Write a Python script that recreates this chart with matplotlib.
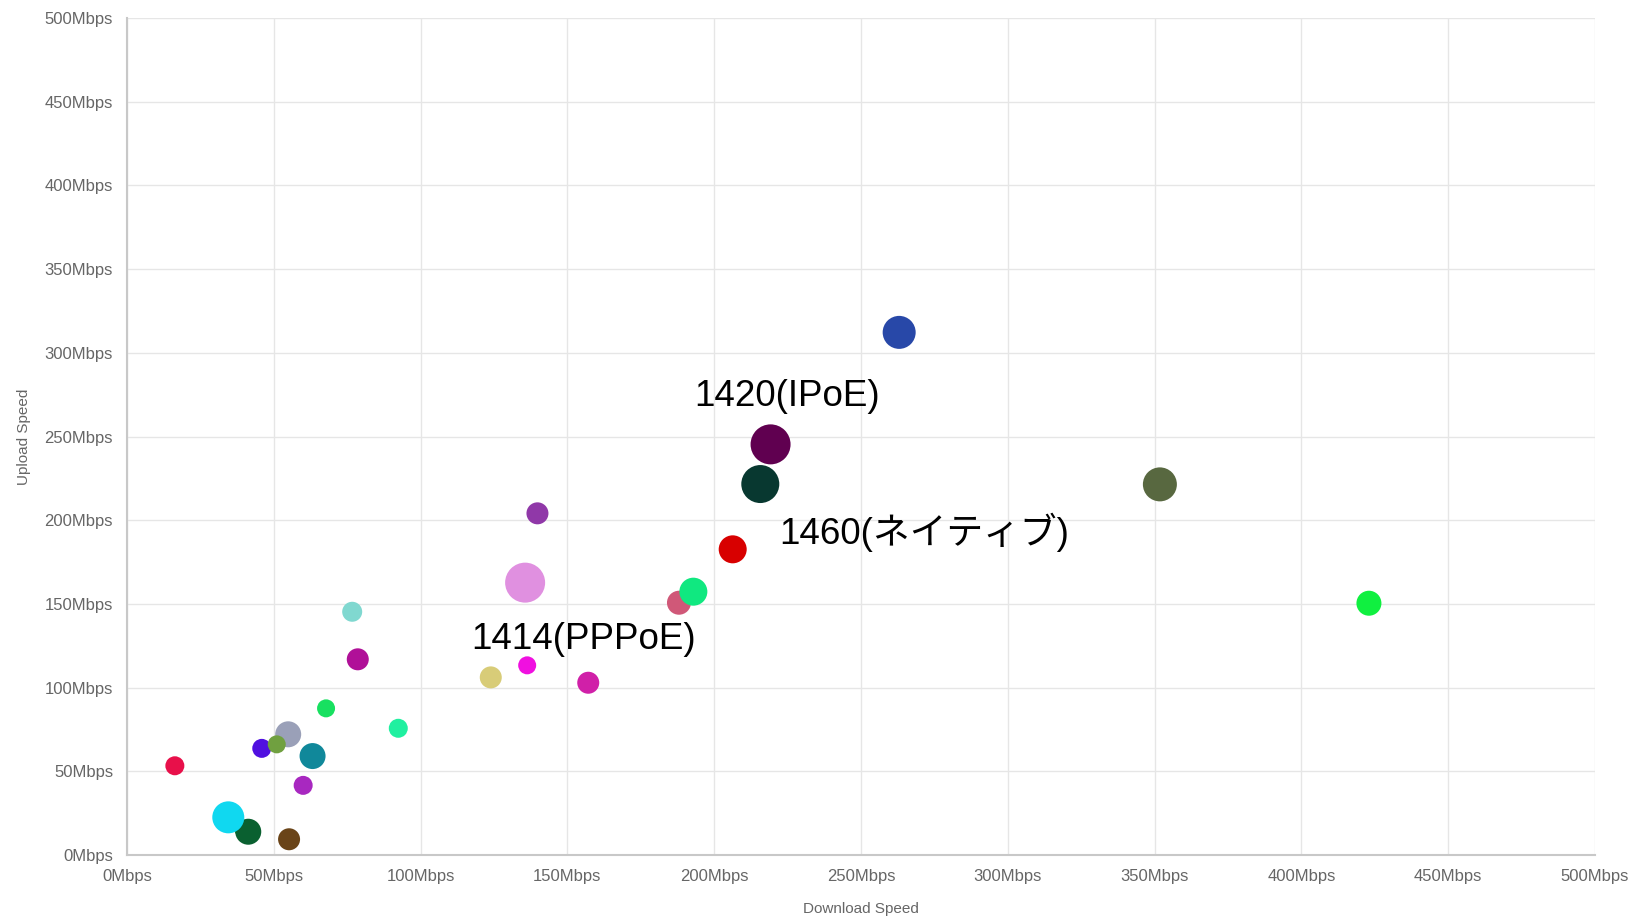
import matplotlib
matplotlib.use("Agg")
import matplotlib.pyplot as plt

# download / upload speeds (Mbps) per measurement, bubble radius in px
download = [16.3, 45.9, 54.9, 51.0, 63.2, 60.0, 39.1, 41.3, 34.5, 55.2,
            67.8, 92.4, 76.7, 78.6, 123.9, 136.3, 157.1, 135.6, 139.8,
            188.0, 192.9, 206.3, 215.7, 219.2, 263.0, 351.8, 423.0]
upload = [53.3, 63.7, 72.1, 66.1, 59.1, 41.6, 15.9, 13.9, 22.5, 9.4,
          87.6, 75.7, 145.3, 116.9, 106.1, 113.3, 102.9, 162.7, 204.1,
          150.7, 157.3, 182.6, 221.6, 245.3, 312.2, 221.4, 150.4]
radius = [9.5, 9.5, 13, 9, 13, 9.5, 8, 13, 16, 11,
          9, 9.5, 10, 11, 11, 9, 11, 20, 11,
          12, 14, 14, 19, 20, 16.5, 17, 12.5]
colors = ["#e8104a", "#5010e0", "#9aa0b8", "#70a040", "#10889a", "#a828c0",
          "#20a030", "#0a6030", "#10d8f0", "#6a4418", "#18e060", "#20f0a0",
          "#80d8d0", "#b01098", "#d8cc78", "#f010e0", "#d020a8", "#e090e0",
          "#9038a8", "#d05878", "#10e880", "#d80000", "#083830", "#600050",
          "#2848a8", "#586840", "#10f040"]

labels = ["1420(IPoE)", "1460(ネイティブ)", "1414(PPPoE)"]
label_x = [193.3, 222.2, 117.3]
label_y = [274.0, 193.0, 128.5]

ticks = [0, 50, 100, 150, 200, 250, 300, 350, 400, 450, 500]
tick_labels = ["{}Mbps".format(t) for t in ticks]

fig = plt.figure(figsize=(16.3, 9.17), dpi=100)
ax = fig.add_axes([127 / 1630, 1 - 855 / 917, (1595 - 127) / 1630, (855 - 18) / 917])

sizes = [(1.44 * r) ** 2 for r in radius]
ax.scatter(download, upload, s=sizes, c=colors, edgecolors="none", zorder=3)

for txt, x, y in zip(labels, label_x, label_y):
    ax.text(x, y, txt, fontsize=26.5, color="black", ha="left", va="center",
            family=["Liberation Sans", "Noto Sans CJK JP"], zorder=4)

ax.set_xlim(0, 500)
ax.set_ylim(0, 500)
ax.set_xticks(ticks)
ax.set_xticklabels(tick_labels)
ax.set_yticks(ticks)
ax.set_yticklabels(tick_labels)
ax.tick_params(length=0, labelsize=12, labelcolor="#666666", pad=10)
for lab in ax.get_xticklabels() + ax.get_yticklabels():
    lab.set_family("Liberation Sans")

ax.grid(True, color="#e6e6e6", linewidth=1, zorder=0)
ax.set_axisbelow(True)
for side in ["top", "right"]:
    ax.spines[side].set_visible(False)
for side in ["left", "bottom"]:
    ax.spines[side].set_color("#c8c8c8")
    ax.spines[side].set_linewidth(1.5)

ax.set_xlabel("Download Speed", fontsize=11, color="#666666", family="Liberation Sans", labelpad=13)
ax.set_ylabel("Upload Speed", fontsize=11, color="#666666", family="Liberation Sans", labelpad=10)

fig.savefig("out.png", dpi=100)
